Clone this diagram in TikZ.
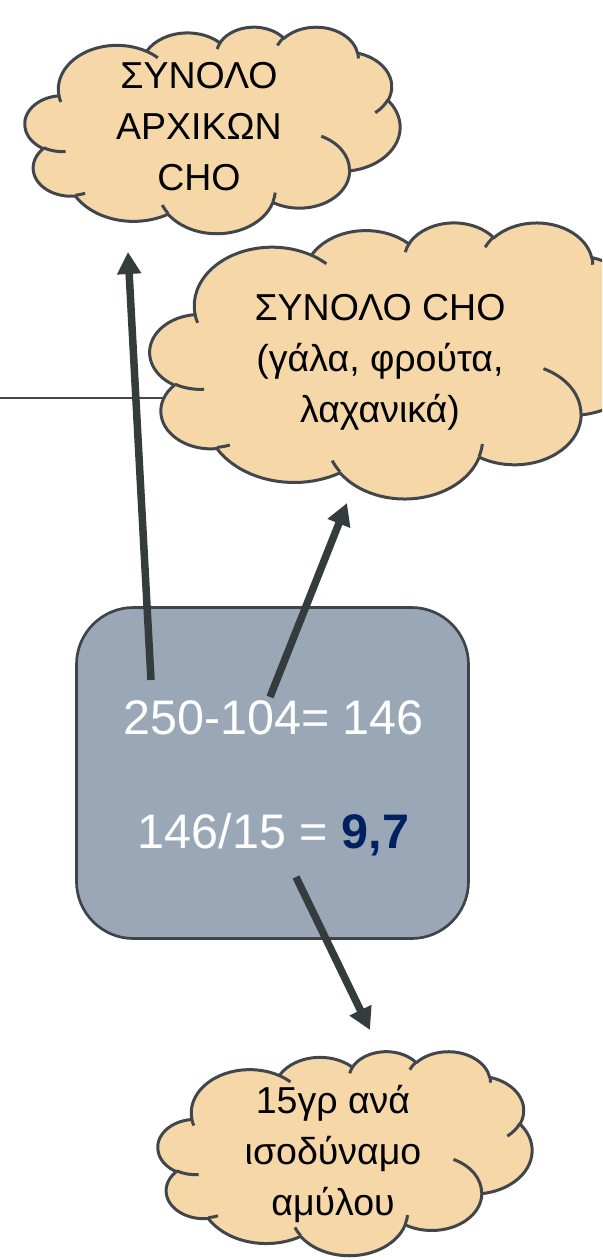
\documentclass[tikz,border=0pt]{standalone}
\usepackage{fontspec}
\setmainfont{Liberation Sans}
\usetikzlibrary{arrows.meta}

\definecolor{cloudFill}{HTML}{F5D7A8}
\definecolor{cloudLine}{HTML}{41464C}
\definecolor{boxFill}{HTML}{9AA7B6}
\definecolor{boxLine}{HTML}{3F444A}
\definecolor{arrowGray}{HTML}{353C3E}
\definecolor{ruleGray}{HTML}{474747}
\definecolor{resultBlue}{HTML}{002060}

% One elliptical arc of a cloud outline. Arguments: x radius, y radius,
% start angle and sweep, the angles being visual angles on the ellipse;
% they are turned into parametric angles before the arc is drawn.
\newcommand\cloudArcSetup[4]{%
  \pgfmathsetmacro\cArcS{atan2((#1)*sin(#3),(#2)*cos(#3))}%
  \pgfmathsetmacro\cArcE{atan2((#1)*sin((#3)+(#4)),(#2)*cos((#3)+(#4)))}%
  \pgfmathsetmacro\cArcD{mod(\cArcE-\cArcS+720,360)}%
  \edef\cArcNext{\noexpand\tikzset{insert path={arc[x radius=#1pt, y radius=#2pt, start angle=\cArcS, delta angle=\cArcD]}}}%
  \cArcNext}

\tikzset{
  carc/.code n args={4}{\cloudArcSetup{#1}{#2}{#3}{#4}},
  cloudbody/.style={fill=cloudFill, draw=cloudLine, line width=3pt, line join=round},
  cloudcrease/.style={draw=cloudLine, line width=3pt, line cap=butt},
  cloudtext/.style={align=center, font=\fontsize{37.5}{51}\selectfont, text=black, inner sep=0pt},
  calcbox/.style={draw=boxLine, fill=boxFill, line width=2.7pt, rounded corners=57pt,
    minimum width=392pt, minimum height=331pt},
  boxtext/.style={font=\fontsize{48.5}{56}\selectfont, text=white, inner sep=0pt, anchor=base},
  pointer/.style={draw=arrowGray, line width=7.5pt, -{Triangle[width=23pt,length=22pt]}},
}

% Cloud outline in a 43.2 x 43.2 frame: left, top, width, height
\newcommand\drawcloud[4]{%
  \begin{scope}[shift={(#1,#2)}, xscale={#3/43.2}, yscale={#4/43.2}]
    \path[cloudbody] (3.9,14.37)
      [carc={6.753}{9.19}{-190.4875}{123.7805}]
      [carc={5.333}{7.267}{-144.1024}{89.9452}]
      [carc={4.365}{5.945}{-145.8079}{99.7230}]
      [carc={4.857}{6.595}{-130.9861}{117.2417}]
      [carc={5.333}{7.273}{-78.7089}{109.0269}]
      [carc={6.775}{9.22}{-46.2673}{130.2690}]
      [carc={5.785}{7.867}{0.6250}{114.0333}]
      [carc={6.752}{9.215}{22.4516}{115.1726}]
      [carc={7.72}{10.543}{66.2426}{75.7110}]
      [carc={4.36}{5.918}{-274.9421}{146.7356}]
      [carc={4.345}{5.945}{-246.8285}{152.5189}] -- cycle;
    \path[cloudcrease]
      (4.693,26.177) [carc={4.345}{5.945}{86.7420}{26.4295}]
      (6.928,34.899) [carc={4.36}{5.918}{73.6105}{11.4475}]
      (16.478,39.09) [carc={6.752}{9.215}{137.6242}{14.0811}]
      (28.827,34.751) [carc={6.752}{9.215}{6.4533}{15.9984}]
      (34.129,22.954) [carc={5.785}{7.867}{-70.2924}{70.9174}]
      (41.798,15.354) [carc={5.333}{7.273}{30.3180}{27.7515}]
      (38.324,5.426) [carc={4.857}{6.595}{-13.7443}{14.8613}]
      (29.078,3.952) [carc={4.857}{6.595}{-149.1815}{18.1880}]
      (22.141,4.72) [carc={4.365}{5.945}{-163.4943}{17.6847}]
      (14.0,5.192) [carc={6.753}{9.19}{-66.7070}{12.3194}]
      (4.127,15.789) [carc={6.753}{9.19}{157.6544}{11.8582}];
  \end{scope}}

\begin{document}
\begin{tikzpicture}[x=1pt, y=1pt, yscale=-1]
  \useasboundingbox (0,0) rectangle (602,1260);
  \clip (0,0) rectangle (602,1260);

  % thin rule running in from the left edge
  \coordinate (ruleL) at (0,398);
  \coordinate (ruleR) at (200,398);
  \draw[ruleGray, line width=2.4pt] (ruleL) -- (ruleR);

  % clouds
  \drawcloud{25}{26.5}{375}{206.5}
  \drawcloud{150}{222}{498}{276}
  \drawcloud{158}{1051}{374}{204}

  \node[cloudtext] (total) at (199,126.5) {ΣΥΝΟΛΟ\\ΑΡΧΙΚΩΝ\\CHO};
  \node[cloudtext] (choSum) at (380,362) {ΣΥΝΟΛΟ CHO\\(γάλα, φρούτα,\\λαχανικά)};
  \node[cloudtext] (starch) at (333,1154) {15γρ ανά\\ισοδύναμο\\αμύλου};

  % calculation box
  \node[calcbox] (calc) at (272.5,773) {};
  \node[boxtext] (diff) at (273.5,734) {250-104= 146};
  \node[boxtext] (ratio) at (273.5,848) {146/15 = \textcolor{resultBlue}{\textbf{9,7}}};

  % arrows
  \coordinate (p1s) at (151,680);
  \coordinate (p1e) at (128,252);
  \coordinate (p2s) at (270,697);
  \coordinate (p2e) at (347,503);
  \coordinate (p3s) at (296,877);
  \coordinate (p3e) at (370,1030);
  \draw[pointer] (p1s) -- (p1e);
  \draw[pointer] (p2s) -- (p2e);
  \draw[pointer] (p3s) -- (p3e);
\end{tikzpicture}
\end{document}
